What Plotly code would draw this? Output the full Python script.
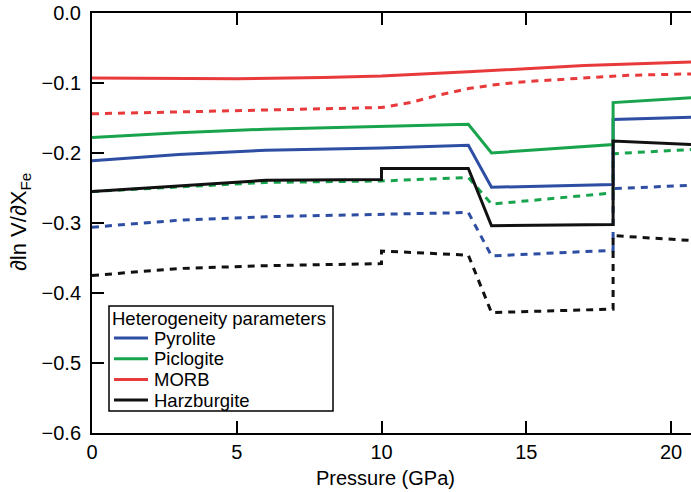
import plotly.graph_objects as go

# ---------------- data ----------------
pressure_pyrolite = [0, 3, 6, 10, 13, 13.8, 18, 18, 20.7]
pyrolite_solid = [-0.211, -0.202, -0.196, -0.193, -0.189, -0.249, -0.245, -0.152, -0.149]
pyrolite_dashed = [-0.306, -0.296, -0.291, -0.288, -0.285, -0.347, -0.339, -0.251, -0.246]

pressure_piclogite = [0, 3, 6, 10, 13, 13.8, 18, 18, 20.7]
piclogite_solid = [-0.178, -0.171, -0.166, -0.162, -0.159, -0.200, -0.188, -0.128, -0.121]
piclogite_dashed = [-0.255, -0.248, -0.242, -0.240, -0.235, -0.273, -0.257, -0.201, -0.195]

pressure_morb_solid = [0, 5, 8, 10, 13, 15, 17, 20.7]
morb_solid = [-0.093, -0.094, -0.092, -0.090, -0.084, -0.079, -0.075, -0.070]
pressure_morb_dashed = [0, 5, 10, 11, 12, 13, 14, 15, 16.5, 18.5, 20.7]
morb_dashed = [-0.144, -0.140, -0.135, -0.128, -0.117, -0.108, -0.102, -0.098, -0.094, -0.089, -0.087]

pressure_harz = [0, 3, 6, 10, 10, 13, 13.8, 18, 18, 20.7]
harz_solid = [-0.255, -0.247, -0.239, -0.238, -0.222, -0.222, -0.304, -0.302, -0.183, -0.188]
harz_dashed = [-0.375, -0.365, -0.361, -0.358, -0.340, -0.346, -0.428, -0.423, -0.318, -0.325]

names = ["Pyrolite", "Piclogite", "MORB", "Harzburgite"]
colors = ["#2e4ea3", "#18a44c", "#e8393b", "#111111"]

x_ticks = [0, 5, 10, 15, 20]
y_ticks = [0.0, -0.1, -0.2, -0.3, -0.4, -0.5, -0.6]

series = [
    (pressure_pyrolite, pyrolite_solid, pyrolite_dashed, pressure_pyrolite),
    (pressure_piclogite, piclogite_solid, piclogite_dashed, pressure_piclogite),
    (pressure_morb_solid, morb_solid, morb_dashed, pressure_morb_dashed),
    (pressure_harz, harz_solid, harz_dashed, pressure_harz),
]

FONT = "Liberation Sans, Arial, Helvetica, sans-serif"
fig = go.Figure()

# dashed first, solid on top
for (xs, ys_s, ys_d, xd), name, c in zip(series, names, colors):
    fig.add_trace(go.Scatter(x=xd, y=ys_d, mode="lines", name=name + " (dashed)",
                             line=dict(color=c, width=3, dash="7px,6px"),
                             showlegend=False, hoverinfo="skip"))
for (xs, ys_s, ys_d, xd), name, c in zip(series, names, colors):
    fig.add_trace(go.Scatter(x=xs, y=ys_s, mode="lines", name=name,
                             line=dict(color=c, width=3), showlegend=False))

W, H = 691, 492
ML, MR, MT, MB = 92, 0, 13, 59
pw, ph = W - ML - MR, H - MT - MB


def px(xp):
    return (xp - ML) / pw


def py(yp):
    return (H - MB - yp) / ph


# ---- manual legend (box, samples, labels) ----
shapes = [dict(type="rect", xref="paper", yref="paper",
               x0=px(109), x1=px(333), y0=py(411), y1=py(306),
               line=dict(color="black", width=1.5), fillcolor="white", layer="above")]
annotations = [dict(text="Heterogeneity parameters", xref="paper", yref="paper",
                    x=px(110), y=py(318), xanchor="left", yanchor="middle",
                    showarrow=False, font=dict(size=18.5, color="black", family=FONT))]
for i, (name, c) in enumerate(zip(names, colors)):
    yy = 338 + i * 20.7
    shapes.append(dict(type="line", xref="paper", yref="paper",
                       x0=px(114), x1=px(148), y0=py(yy), y1=py(yy),
                       line=dict(color=c, width=3), layer="above"))
    annotations.append(dict(text=name, xref="paper", yref="paper",
                            x=px(152), y=py(yy), xanchor="left", yanchor="middle",
                            showarrow=False, font=dict(size=18.5, color="black", family=FONT)))

# axis titles
annotations.append(dict(text="Pressure (GPa)", xref="paper", yref="paper",
                        x=px(385), y=py(478), xanchor="center", yanchor="middle",
                        showarrow=False, font=dict(size=20, color="black", family=FONT)))
annotations.append(dict(text="\u2202ln V/\u2202X<sub>Fe</sub>", xref="paper", yref="paper",
                        x=px(20), y=py(222), xanchor="center", yanchor="middle",
                        textangle=-90, showarrow=False,
                        font=dict(size=22, color="black", family=FONT)))

fig.update_layout(
    width=W, height=H,
    margin=dict(l=ML, r=MR, t=MT, b=MB, pad=0),
    paper_bgcolor="white", plot_bgcolor="white",
    font=dict(family=FONT, size=20, color="black"),
    showlegend=False,
    shapes=shapes, annotations=annotations,
    xaxis=dict(range=[0, (W - ML) / 28.95], tickvals=x_ticks, ticktext=[str(v) for v in x_ticks],
               ticks="inside", ticklen=12, tickwidth=1.5, tickcolor="black",
               showline=True, linewidth=2, linecolor="black", mirror="ticks",
               showgrid=False, zeroline=False, tickfont=dict(size=20)),
    yaxis=dict(range=[-0.6, 0], tickvals=y_ticks, tickformat=".1f",
               ticks="inside", ticklen=12, tickwidth=1.5, tickcolor="black",
               showline=True, linewidth=2, linecolor="black", mirror=False,
               showgrid=False, zeroline=False, tickfont=dict(size=20),
               ticklabelstandoff=5),
)

fig.write_html("out.html")
